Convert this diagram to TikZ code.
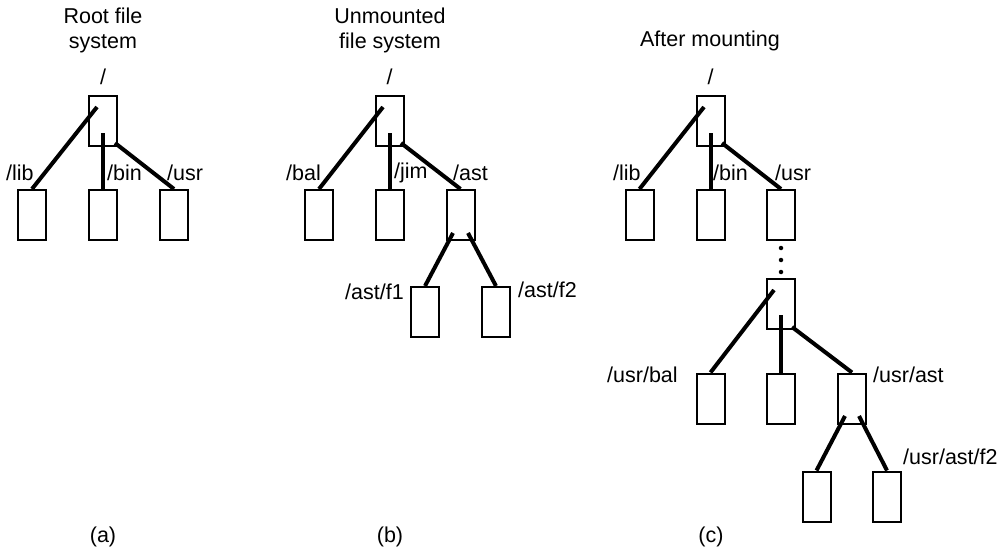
\documentclass[tikz,border=0pt]{standalone}
\usepackage{fontspec}
\setmainfont{Liberation Sans}
\usetikzlibrary{calc}
\begin{document}
\begin{tikzpicture}[x=1pt,y=-1pt,
  font=\fontsize{21.5}{25}\selectfont,
  dirbox/.style={draw,line width=2pt,minimum width=28pt,minimum height=50pt,inner sep=0pt},
  link/.style={line width=4pt},
  lbl/.style={anchor=west,inner sep=0pt},
  ttl/.style={align=center,inner sep=0pt},
  dotmark/.style={circle,fill,inner sep=0pt,minimum size=4.5pt}]
\useasboundingbox (0,0) rectangle (1008,554);

% ---------- (a) ----------
\node[ttl] (ta) at (103,30) {Root file\\system};
\node[ttl] (sa) at (103,77) {/};
\node[dirbox] (ra) at (103,121) {};
\node[dirbox] (la) at (32,215) {};
\node[dirbox] (ba) at (103,215) {};
\node[dirbox] (ua) at (174,215) {};
\draw[link] ($(ra.center)+(-6,-14)$) -- (la.north);
\draw[link] ($(ra.center)+(0,12)$) -- (ba.north);
\draw[link] ($(ra.center)+(12,22)$) -- (ua.north);
\node[lbl] (lla) at (6,173) {/lib};
\node[lbl] (lba) at (107,173) {/bin};
\node[lbl] (lua) at (167,173) {/usr};
\node[ttl] (capa) at (103,537) {(a)};

% ---------- (b) ----------
\node[ttl] (tb) at (390,30) {Unmounted\\file system};
\node[ttl] (sb) at (389.5,77) {/};
\node[dirbox] (rb) at (389.5,121) {};
\node[dirbox] (balb) at (319,215) {};
\node[dirbox] (jimb) at (389.5,215) {};
\node[dirbox] (astb) at (460.5,215) {};
\node[dirbox] (f1b) at (425,312) {};
\node[dirbox] (f2b) at (496,312) {};
\draw[link] ($(rb.center)+(-6.5,-14)$) -- (balb.north);
\draw[link] ($(rb.center)+(0,12)$) -- (jimb.north);
\draw[link] ($(rb.center)+(11.5,22)$) -- (astb.north);
\draw[link] ($(astb.center)+(-7.5,18)$) -- (f1b.north);
\draw[link] ($(astb.center)+(7.5,18)$) -- (f2b.north);
\node[lbl] (lbalb) at (286,173) {/bal};
\node[lbl] (ljimb) at (394,173) {/jim};
\node[lbl] (lastb) at (453,173) {/ast};
\node[lbl] (lf1b) at (345,292) {/ast/f1};
\node[lbl] (lf2b) at (518,290) {/ast/f2};
\node[ttl] (capb) at (390,537) {(b)};

% ---------- (c) ----------
\node[ttl] (tc) at (710,41) {After mounting};
\node[ttl] (sc) at (710.5,77) {/};
\node[dirbox] (rc) at (710.5,121) {};
\node[dirbox] (lc) at (639.5,215) {};
\node[dirbox] (bc) at (710.5,215) {};
\node[dirbox] (uc) at (781,215) {};
\draw[link] ($(rc.center)+(-6.5,-14)$) -- (lc.north);
\draw[link] ($(rc.center)+(0,12)$) -- (bc.north);
\draw[link] ($(rc.center)+(11.5,22)$) -- (uc.north);
\node[lbl] (llc) at (613,173) {/lib};
\node[lbl] (lbc) at (713,173) {/bin};
\node[lbl] (luc) at (775,173) {/usr};
\node[dotmark] (d1) at (781,248) {};
\node[dotmark] (d2) at (781,260) {};
\node[dotmark] (d3) at (781,272) {};
\node[dirbox] (mc) at (781,304) {};
\node[dirbox] (balc) at (710.5,398.5) {};
\node[dirbox] (jimc) at (781,398.5) {};
\node[dirbox] (astc) at (852,398.5) {};
\node[dirbox] (f1c) at (816.5,496.5) {};
\node[dirbox] (f2c) at (887,496.5) {};
\draw[link] ($(mc.center)+(-7,-14)$) -- (balc.north);
\draw[link] ($(mc.center)+(0,11)$) -- (jimc.north);
\draw[link] ($(mc.center)+(11,23)$) -- (astc.north);
\draw[link] ($(astc.center)+(-7,17.5)$) -- (f1c.north);
\draw[link] ($(astc.center)+(7,17.5)$) -- (f2c.north);
\node[lbl] (lbalc) at (607,375) {/usr/bal};
\node[lbl] (lastc) at (873,375) {/usr/ast};
\node[lbl] (lf2c) at (903,457) {/usr/ast/f2};
\node[ttl] (capc) at (711,537) {(c)};
\end{tikzpicture}
\end{document}
